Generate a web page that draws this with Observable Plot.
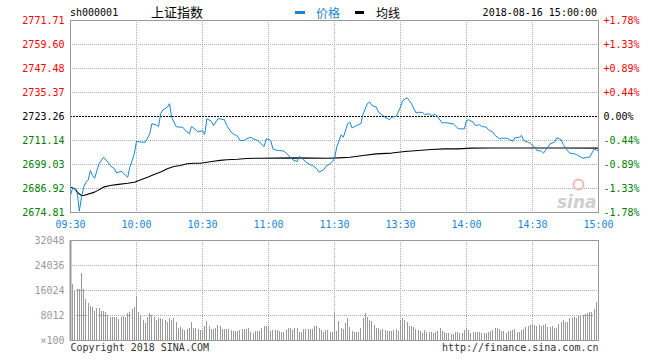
<!DOCTYPE html>
<html><head><meta charset="utf-8">
<script src="https://cdn.jsdelivr.net/npm/d3@7"></script>
<script src="https://cdn.jsdelivr.net/npm/@observablehq/plot@0.6"></script>
<style>
body{margin:0;background:#fff;}
#c{position:relative;width:660px;height:360px;font-family:"DejaVu Sans Mono",monospace;overflow:hidden;}
#c svg{position:absolute;left:0;}
.h{position:absolute;white-space:nowrap;line-height:14px;height:14px;}
.cjk{font-family:"Noto Sans CJK SC",sans-serif;}
</style></head><body><div id="c"></div>
<script>
// ---- data ----
const code = "sh000001";
const name = "上证指数";
const stamp = "2018-08-16 15:00:00";
const basePrice = 2723.26;
const priceTicks = [2674.81, 2686.92, 2699.03, 2711.14, 2723.26, 2735.37, 2747.48, 2759.60, 2771.71];
const pctLabels = ["-1.78%", "-1.33%", "-0.89%", "-0.44%", "0.00%", "+0.44%", "+0.89%", "+1.33%", "+1.78%"];
const timeTicks = [0, 30, 60, 90, 120, 150, 180, 210, 240]; // minute index of trading day
const timeLabels = ["09:30", "10:00", "10:30", "11:00", "11:30", "13:30", "14:00", "14:30", "15:00"];
const volTicks = [0, 8012, 16024, 24036, 32048];
const volLabels = ["×100", "8012", "16024", "24036", "32048"];

// price (minute index, value)
const priceMin = [0,1,2,3,4,5,6,7,8,9,10,11,12,13,15,17,18,20,21,23,24,26,27,29,30,32,34,36,37,39,40,41,42,44,45,46,48,49,51,52,54,55,57,58,60,61,62,64,65,67,68,70,71,73,74,76,77,79,80,82,83,85,86,88,89,91,92,94,95,97,98,100,101,103,104,106,107,109,110,112,113,115,116,118,120,121,123,124,126,127,128,130,132,133,135,136,137,139,140,142,143,145,146,148,150,151,153,154,155,157,158,160,161,163,164,166,167,169,170,172,174,176,177,179,180,181,183,184,186,187,189,190,192,193,195,196,198,199,201,202,204,205,206,208,209,211,212,214,215,217,218,220,221,223,224,226,227,229,230,232,233,235,236,238,239,240];
const priceVal = [2683.5,2687.2,2686.8,2685.9,2675.5,2682.5,2687.6,2690.1,2691.0,2696.0,2693.5,2692.1,2696.0,2699.4,2702.7,2700.2,2698.5,2696.9,2694.7,2695.7,2694.7,2692.6,2697.7,2704.4,2710.8,2710.3,2710.3,2714.5,2719.6,2719.0,2718.2,2724.6,2726.6,2728.0,2729.7,2722.9,2718.2,2717.9,2717.9,2716.5,2714.5,2718.2,2716.5,2715.4,2716.2,2714.2,2722.1,2720.9,2718.7,2722.1,2722.1,2721.6,2718.7,2715.4,2714.5,2713.2,2711.2,2711.2,2712.0,2712.8,2712.0,2711.2,2710.3,2708.1,2712.0,2711.2,2706.9,2706.1,2706.1,2705.8,2704.8,2702.7,2701.4,2700.5,2703.1,2701.4,2700.2,2698.9,2698.5,2696.9,2695.2,2696.3,2698.0,2699.4,2701.9,2707.8,2714.0,2712.8,2719.6,2720.4,2717.5,2718.7,2719.6,2724.6,2729.9,2730.5,2728.8,2728.0,2725.4,2723.8,2722.9,2721.6,2722.9,2723.3,2728.0,2731.3,2732.7,2731.3,2729.7,2725.1,2725.4,2725.3,2724.3,2724.6,2723.8,2724.3,2722.9,2719.9,2720.2,2719.9,2719.6,2717.4,2717.0,2717.0,2721.2,2721.6,2720.4,2718.7,2719.1,2718.2,2717.9,2716.5,2715.4,2713.7,2712.0,2712.3,2712.3,2712.0,2710.8,2712.5,2712.8,2713.7,2711.2,2710.3,2709.8,2707.8,2706.1,2705.8,2704.8,2707.8,2709.5,2710.3,2712.5,2711.5,2709.1,2705.8,2704.8,2704.4,2704.1,2702.7,2702.2,2702.7,2702.7,2706.9,2706.4,2705.8];

// average line (minute index, value)
const avgMin = [0,2,3,5,6,11,15,18,21,26,29,32,35,38,41,44,47,50,53,56,59,62,65,68,71,76,80,86,102,117,122,127,133,139,146,152,158,164,170,176,182,191,203,215,224,240];
const avgVal = [2687.6,2686.8,2685.1,2683.4,2683.4,2685.1,2687.6,2688.4,2688.9,2689.6,2690.1,2691.3,2692.6,2694.0,2695.2,2696.9,2698.0,2698.5,2699.4,2699.7,2699.7,2700.2,2700.7,2701.1,2701.4,2701.7,2702.1,2702.2,2702.4,2702.2,2702.4,2702.7,2703.6,2704.4,2704.8,2705.6,2706.1,2706.6,2706.9,2706.9,2707.3,2707.4,2707.4,2707.4,2707.4,2707.3];

// volume per minute (×100), minute index 1..239
const volumes = [17900,15700,16300,16500,21500,16300,13100,12000,10900,10700,9300,10200,10200,9300,9300,9100,8000,7500,7500,7500,7300,6600,7300,7700,7300,8800,9100,9800,10500,13900,
8970,8010,6400,5450,7480,8540,8010,7370,6510,6940,6940,6730,6300,5870,6940,6400,6940,5770,3950,4170,3520,3310,3520,3950,5660,3950,3950,3520,3310,3100,
4590,6090,4590,3520,3520,3950,4810,4590,3520,3520,3520,3520,3100,2880,2880,2880,3310,3520,3520,3520,3950,2670,2240,2880,2880,2880,3950,4590,4590,4590,
2880,3100,3100,3310,2880,2670,2670,3100,3950,3950,3310,3950,3950,2670,2670,3520,3520,3520,3520,3520,4380,4590,3950,3100,2460,3100,3100,2460,2670,8860,
2880,6090,3950,3520,5450,7160,4170,2880,2460,2460,2460,3950,7160,8650,7370,6410,6090,4810,3950,3950,3310,3520,3310,2880,2880,2880,3100,3520,2880,6300,
7160,6300,5870,4590,4590,4170,3520,3100,2880,2240,3100,2670,2670,2670,2240,2460,2880,3950,2880,2670,2240,2240,2030,2030,2460,2670,2240,2240,3310,3740,
3100,2240,2670,2460,2460,2670,2240,2240,2240,2460,2880,3310,3950,3950,3520,2880,2880,2240,2880,2880,3100,3520,2670,2670,3100,3520,4170,4380,4810,5230,
4810,4590,4810,4590,4810,5230,4170,4170,4590,3950,3950,5020,5660,6300,5660,5660,7160,7160,7370,7160,7580,7800,8010,8220,8540,8860,9080,9930,12280];

// ---- build ----
const BLUE = "#1a86d6";
const GRID = "#aaa";
const prices = priceMin.map((m, i) => ({m, v: priceVal[i]}));
const avgs = avgMin.map((m, i) => ({m, v: avgVal[i]}));
const vols = volumes.map((v, i) => ({m: i + 1, v}));
const labelColor = (d, i) => i < 4 ? "#008000" : i === 4 ? "#000" : "#f00";

const priceChart = Plot.plot({
  width: 660, height: 232,
  marginLeft: 70, marginRight: 62, marginTop: 20, marginBottom: 20,
  x: {domain: [0, 240], axis: null},
  y: {domain: [priceTicks[0], priceTicks[8]], axis: null},
  style: {fontFamily: "DejaVu Sans Mono, monospace", fontSize: "10px", background: "transparent", overflow: "visible"},
  marks: [
    Plot.ruleY(priceTicks.filter((d, i) => i > 0 && i < 8 && i !== 4), {stroke: GRID, strokeDasharray: "1,1"}),
    Plot.ruleX(timeTicks.slice(1, -1), {stroke: GRID, strokeDasharray: "1,1"}),
    Plot.ruleY([basePrice], {stroke: "#000", strokeDasharray: "2,1"}),
    Plot.text(["sina"], {frameAnchor: "bottom-right", dx: -2, dy: -10, textAnchor: "end", lineAnchor: "middle", fontSize: 17, fontWeight: "bold", fontStyle: "italic", fontFamily: "DejaVu Sans, sans-serif", fill: "#cfcfcf"}),
    Plot.dot([0], {frameAnchor: "bottom-right", dx: -20, dy: -28, r: 5, stroke: "#f2b8b8", strokeWidth: 2, fill: "none"}),
    Plot.line(avgs, {x: "m", y: "v", stroke: "#000", strokeWidth: 1.1}),
    Plot.line(prices, {x: "m", y: "v", stroke: BLUE, strokeWidth: 1}),
    Plot.frame({stroke: "#999"}),
    Plot.text(priceTicks, {y: d => d, text: d => d.toFixed(2), frameAnchor: "left", dx: -6, textAnchor: "end", lineAnchor: "middle", fill: labelColor}),
    Plot.text(priceTicks, {y: d => d, text: (d, i) => pctLabels[i], frameAnchor: "right", dx: 5, textAnchor: "start", lineAnchor: "middle", fill: labelColor}),
    Plot.text(timeTicks, {x: d => d, text: (d, i) => timeLabels[i], frameAnchor: "bottom", dy: 12, textAnchor: "middle", lineAnchor: "middle", fill: BLUE})
  ]
});
priceChart.style.top = "0px";

const volChart = Plot.plot({
  width: 660, height: 128,
  marginLeft: 70, marginRight: 62, marginTop: 8, marginBottom: 20,
  x: {domain: [0, 240], axis: null},
  y: {domain: [0, 32048], axis: null},
  style: {fontFamily: "DejaVu Sans Mono, monospace", fontSize: "10px", background: "transparent", overflow: "visible"},
  marks: [
    Plot.ruleY(volTicks.slice(1, -1), {stroke: GRID, strokeDasharray: "1,1"}),
    Plot.ruleX(timeTicks.slice(1, -1), {stroke: GRID, strokeDasharray: "1,1"}),
    Plot.ruleX(vols, {x: "m", y1: 0, y2: "v", stroke: "#999", shapeRendering: "crispEdges"}),
    Plot.frame({stroke: "#999"}),
    Plot.ruleX([0], {stroke: "#999", strokeWidth: 2}),
    Plot.text(volTicks, {y: d => d, text: (d, i) => volLabels[i], frameAnchor: "left", dx: -6, textAnchor: "end", lineAnchor: "middle", fill: "#999"}),
    Plot.text(["Copyright 2018 SINA.COM"], {frameAnchor: "bottom-left", dy: 7, textAnchor: "start", lineAnchor: "middle", fill: "#333"}),
    Plot.text(["http://finance.sina.com.cn"], {frameAnchor: "bottom-right", dy: 7, textAnchor: "end", lineAnchor: "middle", fill: "#333"})
  ]
});
volChart.style.top = "232px";

const c = document.getElementById("c");
c.append(priceChart, volChart);

function addDiv(html, css, cls) {
  const d = document.createElement("div");
  d.className = "h " + (cls || "");
  d.textContent = html;
  Object.assign(d.style, css);
  c.append(d);
  return d;
}
addDiv(code, {left: "70px", top: "6px", fontSize: "10px", color: "#000"});
addDiv(name, {left: "151px", top: "5px", fontSize: "13px", color: "#000"}, "cjk");
addDiv("", {left: "295px", top: "11px", width: "10px", height: "3px", background: BLUE});
addDiv("价格", {left: "316px", top: "6px", fontSize: "12px", color: BLUE}, "cjk");
addDiv("", {left: "355px", top: "11px", width: "9px", height: "3px", background: "#000"});
addDiv("均线", {left: "376px", top: "6px", fontSize: "12px", color: "#000"}, "cjk");
addDiv(stamp, {right: "63px", top: "6px", fontSize: "10px", color: "#000"});
</script></body></html>
